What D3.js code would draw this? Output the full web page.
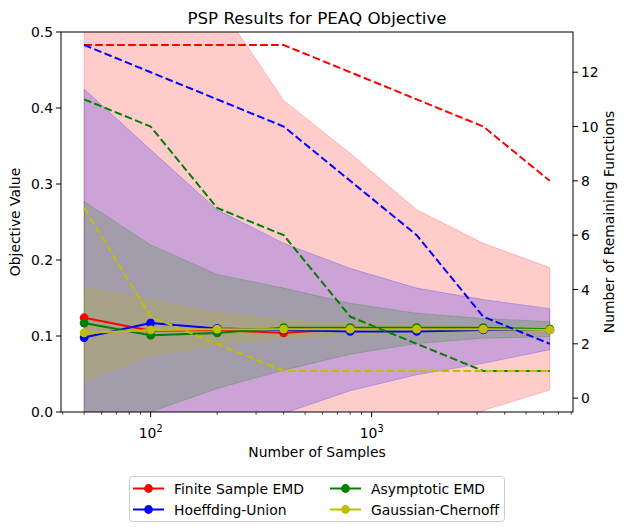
<!DOCTYPE html>
<html>
<head>
<meta charset="utf-8">
<script src="https://cdn.jsdelivr.net/npm/d3@7"></script>
<style>
  body { margin: 0; background: #fff; }
  svg { font-family: "DejaVu Sans", sans-serif; }
</style>
</head>
<body>
<svg id="chart" width="630" height="532"></svg>
<script>
// sample counts on the x axis
const samples = [50, 100, 200, 400, 800, 1600, 3200, 6400];

// objective value (left axis), means
const finiteMean = [0.124, 0.107, 0.108, 0.104, 0.110, 0.110, 0.109, 0.109];
const hoeffMean  = [0.098, 0.117, 0.110, 0.108, 0.106, 0.106, 0.108, 0.108];
const asymMean   = [0.117, 0.101, 0.104, 0.111, 0.111, 0.111, 0.111, 0.109];
const gaussMean  = [0.104, 0.108, 0.109, 0.109, 0.109, 0.109, 0.109, 0.108];

// confidence bands
const finiteLo = [-0.50, -0.40, -0.30, -0.20, -0.12, -0.05, 0.002, 0.029];
const finiteHi = [0.75, 0.64, 0.54, 0.41, 0.34, 0.266, 0.222, 0.19];
const hoeffLo  = [-0.23, -0.15, -0.075, -0.002, 0.028, 0.049, 0.064, 0.082];
const hoeffHi  = [0.425, 0.345, 0.266, 0.222, 0.189, 0.163, 0.148, 0.136];
const asymLo   = [-0.10, 0.0, 0.031, 0.055, 0.076, 0.09, 0.097, 0.099];
const asymHi   = [0.277, 0.22, 0.181, 0.163, 0.143, 0.13, 0.123, 0.119];
const gaussLo  = [0.041, 0.074, 0.088, 0.097, 0.101, 0.103, 0.105, 0.106];
const gaussHi  = [0.164, 0.148, 0.131, 0.121, 0.117, 0.115, 0.113, 0.112];

// remaining functions (right axis)
const finiteRem = [13, 13, 13, 13, 12, 11, 10, 8];
const hoeffRem  = [13, 12, 11, 10, 8, 6, 3, 2];
const asymRem   = [11, 10, 7, 6, 3, 2, 1, 1];
const gaussRem  = [7, 3, 2, 1, 1, 1, 1, 1];

const leftTicks = [0.0, 0.1, 0.2, 0.3, 0.4, 0.5];
const rightTicks = [0, 2, 4, 6, 8, 10, 12];
const xMajor = [100, 1000];

const series = [
  {name: 'Finite Sample EMD', color: '#ff0000', mean: finiteMean, lo: finiteLo, hi: finiteHi, rem: finiteRem},
  {name: 'Hoeffding-Union', color: '#0000ff', mean: hoeffMean, lo: hoeffLo, hi: hoeffHi, rem: hoeffRem},
  {name: 'Asymptotic EMD', color: '#008000', mean: asymMean, lo: asymLo, hi: asymHi, rem: asymRem},
  {name: 'Gaussian-Chernoff', color: '#bfbf00', mean: gaussMean, lo: gaussLo, hi: gaussHi, rem: gaussRem}
];

const svg = d3.select('#chart');
const pl = 61, pr = 573, pt = 32, pb = 412;

const x = d3.scaleLog().domain([39.3, 8150]).range([pl, pr]);
const y = d3.scaleLinear().domain([0, 0.5]).range([pb, pt]);
const y2 = d3.scaleLinear().domain([-0.51, 13.48]).range([pb, pt]);

svg.append('defs').append('clipPath').attr('id', 'plot')
  .append('rect').attr('x', pl).attr('y', pt)
  .attr('width', pr - pl).attr('height', pb - pt);

const plot = svg.append('g').attr('clip-path', 'url(#plot)');

// bands
series.forEach(s => {
  const area = d3.area()
    .x((d, i) => x(samples[i]))
    .y0((d, i) => y(s.lo[i]))
    .y1((d, i) => y(s.hi[i]));
  plot.append('path')
    .datum(samples)
    .attr('d', area)
    .attr('fill', s.color)
    .attr('fill-opacity', 0.2)
    .attr('stroke', s.color)
    .attr('stroke-opacity', 0.2)
    .attr('stroke-width', 1);
});

// mean lines with markers
series.forEach(s => {
  const line = d3.line()
    .x((d, i) => x(samples[i]))
    .y((d, i) => y(s.mean[i]));
  plot.append('path')
    .datum(samples)
    .attr('d', line)
    .attr('fill', 'none')
    .attr('stroke', s.color)
    .attr('stroke-width', 2);
  plot.selectAll(null)
    .data(s.mean)
    .enter().append('circle')
    .attr('cx', (d, i) => x(samples[i]))
    .attr('cy', d => y(d))
    .attr('r', 4.4)
    .attr('fill', s.color);
});

// remaining-function dashed lines (twin axis)
series.forEach(s => {
  const line = d3.line()
    .x((d, i) => x(samples[i]))
    .y((d, i) => y2(s.rem[i]));
  plot.append('path')
    .datum(samples)
    .attr('d', line)
    .attr('fill', 'none')
    .attr('stroke', s.color)
    .attr('stroke-width', 2)
    .attr('stroke-dasharray', '7.7,3.3');
});

// frame
svg.append('rect')
  .attr('x', pl).attr('y', pt)
  .attr('width', pr - pl).attr('height', pb - pt)
  .attr('fill', 'none').attr('stroke', '#000').attr('stroke-width', 1);

// left axis
const gl = svg.append('g');
leftTicks.forEach(t => {
  gl.append('line').attr('x1', pl - 5).attr('x2', pl)
    .attr('y1', y(t)).attr('y2', y(t)).attr('stroke', '#000');
  gl.append('text').attr('x', pl - 8).attr('y', y(t))
    .attr('dy', '0.36em').attr('text-anchor', 'end')
    .attr('font-size', 13.9).text(d3.format('.1f')(t));
});

// right axis
const gr = svg.append('g');
rightTicks.forEach(t => {
  gr.append('line').attr('x1', pr).attr('x2', pr + 5)
    .attr('y1', y2(t)).attr('y2', y2(t)).attr('stroke', '#000');
  gr.append('text').attr('x', pr + 8).attr('y', y2(t))
    .attr('dy', '0.36em').attr('text-anchor', 'start')
    .attr('font-size', 13.9).text(t);
});

// x axis (log)
const gx = svg.append('g');
x.ticks().forEach(t => {
  const isMajor = xMajor.includes(t);
  gx.append('line').attr('x1', x(t)).attr('x2', x(t))
    .attr('y1', pb).attr('y2', pb + (isMajor ? 5 : 2.8))
    .attr('stroke', '#000').attr('stroke-width', isMajor ? 1 : 0.7);
});
xMajor.forEach(t => {
  const txt = gx.append('text').attr('x', x(t)).attr('y', pb + 26)
    .attr('text-anchor', 'middle').attr('font-size', 13.9);
  txt.append('tspan').text('10');
  txt.append('tspan').attr('dy', -6).attr('font-size', 9.7).text(Math.round(Math.log10(t)));
});

// labels
svg.append('text').attr('x', (pl + pr) / 2).attr('y', 24)
  .attr('text-anchor', 'middle').attr('font-size', 16.7)
  .text('PSP Results for PEAQ Objective');
svg.append('text').attr('x', (pl + pr) / 2).attr('y', 457)
  .attr('text-anchor', 'middle').attr('font-size', 13.9)
  .text('Number of Samples');
svg.append('text')
  .attr('transform', `translate(20,${(pt + pb) / 2}) rotate(-90)`)
  .attr('text-anchor', 'middle').attr('font-size', 13.9)
  .text('Objective Value');
svg.append('text')
  .attr('transform', `translate(614,${(pt + pb) / 2}) rotate(-90)`)
  .attr('text-anchor', 'middle').attr('font-size', 13.9)
  .text('Number of Remaining Functions');

// legend
const lg = svg.append('g');
lg.append('rect').attr('x', 129.5).attr('y', 476.5).attr('width', 375).attr('height', 45)
  .attr('rx', 3).attr('fill', '#fff').attr('fill-opacity', 0.8)
  .attr('stroke', '#cccccc').attr('stroke-width', 1);
series.forEach((s, i) => {
  const col = Math.floor(i / 2), row = i % 2;
  const lx = 133 + col * 197, ly = 488.5 + row * 21;
  lg.append('line').attr('x1', lx).attr('x2', lx + 31)
    .attr('y1', ly).attr('y2', ly).attr('stroke', s.color).attr('stroke-width', 2);
  lg.append('circle').attr('cx', lx + 15.5).attr('cy', ly).attr('r', 4.4).attr('fill', s.color);
  lg.append('text').attr('x', lx + 41).attr('y', ly).attr('dy', '0.36em')
    .attr('font-size', 13.9).text(s.name);
});
</script>
</body>
</html>
